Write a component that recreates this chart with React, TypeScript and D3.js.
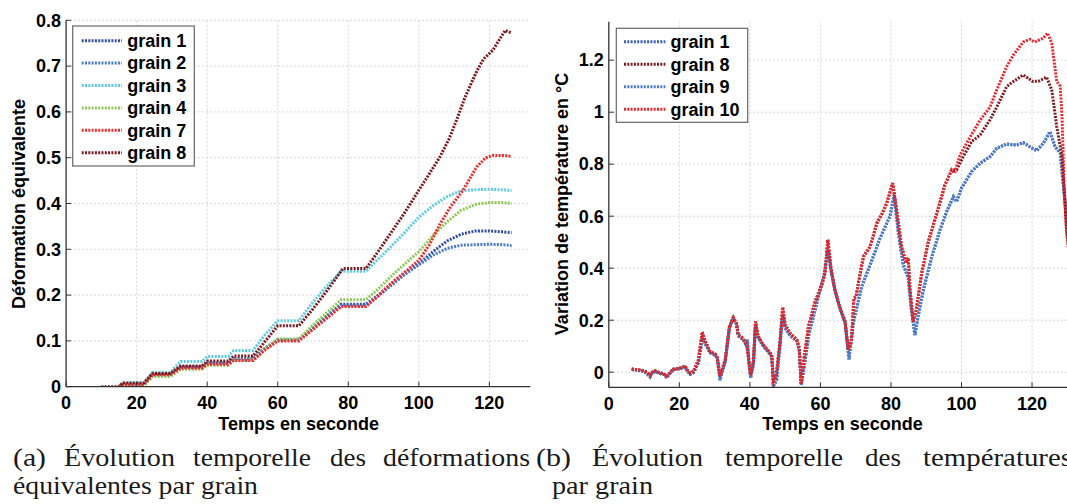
import * as d3 from "d3";

// --- left panel: Déformation équivalente (t [s], valeur) ---
const strainGrain1 = [[15,0],[16,0.005],[22,0.005],[24.5,0.027],[29.5,0.027],[32.5,0.043],[38.5,0.043],[40,0.052],[46,0.052],[47.5,0.061],[53,0.061],[56,0.082],[60,0.103],[66,0.103],[70,0.13],[74,0.155],[78,0.18],[85,0.18],[88,0.197],[92,0.222],[96,0.247],[100,0.268],[104,0.295],[108,0.318],[112,0.333],[116,0.34],[120,0.34],[124,0.338],[126.3,0.336]];
const strainGrain2 = [[15,0],[16,0.004],[22,0.004],[24.5,0.026],[29.5,0.026],[32.5,0.042],[38.5,0.042],[40,0.051],[46,0.051],[47.5,0.06],[53,0.06],[56,0.081],[60,0.102],[66,0.102],[70,0.128],[74,0.152],[78,0.177],[85,0.177],[88,0.195],[92,0.22],[96,0.245],[100,0.266],[104,0.287],[108,0.302],[112,0.309],[116,0.31],[120,0.311],[124,0.31],[126.3,0.308]];
const strainGrain3 = [[15,0],[16,0.008],[22,0.008],[24.5,0.031],[29.5,0.031],[32.5,0.055],[38.5,0.055],[40,0.066],[46,0.066],[47.5,0.079],[53,0.079],[56,0.11],[60,0.144],[66,0.144],[70,0.185],[74,0.22],[78,0.252],[85,0.252],[88,0.275],[92,0.305],[96,0.337],[100,0.37],[104,0.395],[108,0.415],[112,0.428],[116,0.43],[120,0.431],[124,0.43],[126.3,0.428]];
const strainGrain4 = [[15,0],[16,0.002],[22,0.002],[24.5,0.022],[29.5,0.022],[32.5,0.038],[38.5,0.038],[40,0.047],[46,0.047],[47.5,0.058],[53,0.058],[56,0.08],[60,0.104],[66,0.104],[70,0.135],[74,0.162],[78,0.19],[85,0.19],[88,0.21],[92,0.24],[96,0.268],[100,0.295],[104,0.33],[108,0.36],[112,0.385],[116,0.398],[120,0.402],[124,0.402],[126.3,0.4]];
const strainGrain7 = [[15,0],[16,0.005],[22,0.005],[24.5,0.026],[29.5,0.026],[32.5,0.041],[38.5,0.041],[40,0.049],[46,0.049],[47.5,0.057],[53,0.057],[56,0.078],[60,0.1],[66,0.1],[70,0.125],[74,0.15],[78,0.175],[85,0.175],[88,0.195],[92,0.225],[96,0.25],[100,0.276],[103,0.31],[106,0.355],[109,0.393],[112.6,0.43],[116.4,0.48],[119,0.5],[121,0.505],[124,0.505],[126.3,0.503]];
const strainGrain8 = [[10,0],[15,0],[16,0.008],[22,0.008],[24.5,0.029],[29.5,0.029],[32.5,0.045],[38.5,0.045],[40,0.056],[46,0.056],[47.5,0.067],[53,0.067],[56,0.095],[60,0.133],[66,0.133],[70,0.17],[74,0.21],[78.5,0.258],[85,0.258],[88,0.29],[92,0.335],[96,0.38],[100,0.429],[103,0.465],[106,0.502],[108.5,0.54],[110.7,0.582],[113,0.63],[115,0.665],[116.5,0.69],[118.3,0.715],[121,0.735],[123,0.76],[124.5,0.778],[126.3,0.772]];

// --- right panel: Variation de température (t [s], °C) ---
const tempGrain10 = [[6.5,0.012],[8,0.01],[9.8,0.006],[10.8,0],[11.7,-0.012],[12.3,0],[13.1,0.005],[14.5,-0.002],[15.5,-0.005],[16.4,-0.016],[17.3,-0.002],[18.3,0.012],[20,0.015],[21.6,0.024],[22.2,0.01],[23,-0.003],[24,0.003],[25.4,0.047],[26.5,0.155],[27.3,0.12],[28.7,0.08],[30.2,0.07],[30.8,0.055],[31.5,-0.015],[33,0.047],[34.2,0.175],[35.3,0.21],[36.2,0.188],[36.7,0.143],[38.1,0.13],[39.1,0.105],[39.6,0.06],[40.2,-0.01],[41,0.04],[41.6,0.195],[42.3,0.14],[43.8,0.105],[45.2,0.083],[46.2,0.066],[46.6,-0.036],[47.4,-0.017],[48.5,0.111],[49.3,0.25],[50,0.182],[51.4,0.15],[53.3,0.125],[54,0.093],[54.5,-0.043],[55.3,0.047],[56.6,0.175],[58.5,0.272],[60.4,0.336],[61.3,0.38],[62.1,0.51],[63,0.4],[64.1,0.317],[65.5,0.25],[67,0.195],[67.9,0.086],[68.8,0.12],[69.5,0.285],[70.1,0.29],[71,0.36],[72.2,0.445],[74.1,0.483],[76,0.573],[77.5,0.61],[78.8,0.65],[80.5,0.727],[81.6,0.624],[83,0.483],[84.3,0.419],[84.9,0.44],[85.4,0.317],[86.3,0.195],[87.2,0.24],[88.7,0.38],[90.6,0.502],[93,0.611],[95.3,0.72],[97.2,0.778],[98,0.765],[99.6,0.835],[101,0.87],[102.9,0.915],[105.3,0.97],[108.1,1.02],[110,1.086],[112.8,1.175],[114.7,1.22],[117.5,1.27],[119.4,1.28],[120.8,1.27],[123.2,1.285],[124.4,1.304],[125.6,1.265],[127,1.118],[128,1.1],[128.5,0.983],[129.1,0.714],[129.8,0.535],[130.5,0.45]];
const tempGrain8Tail = [[98.6,0.778],[100.5,0.829],[102.9,0.887],[105.3,0.913],[108.1,0.971],[110,1.02],[112.8,1.098],[114.7,1.118],[117.5,1.143],[120.3,1.118],[122,1.12],[124.1,1.135],[125.6,1.086],[127,0.945],[128.5,0.829],[129.3,0.663],[129.8,0.547],[130.5,0.47]];
const tempGrain8 = [...tempGrain10.filter((d) => d[0] <= 97.2), ...tempGrain8Tail];
const tempGrain1 = [[6.5,0.01],[8,0.008],[9.8,0.004],[10.8,-0.005],[11.7,-0.018],[12.3,-0.003],[13.1,0.003],[14.5,-0.005],[15.5,-0.008],[16.4,-0.02],[17.3,-0.005],[18.3,0.01],[20,0.013],[21.6,0.02],[22.2,0.005],[23,-0.008],[24,-0.002],[25.4,0.035],[26.5,0.13],[27.3,0.11],[28.7,0.075],[30.2,0.065],[30.8,0.05],[31.5,-0.03],[33,0.04],[34.2,0.17],[35.3,0.205],[36.2,0.185],[36.7,0.14],[38.1,0.125],[39.1,0.1],[39.3,0.125],[39.6,0.05],[40.2,-0.022],[41,0.03],[41.6,0.18],[42.3,0.135],[43.8,0.1],[45.2,0.078],[46.2,0.06],[46.8,-0.05],[47.6,-0.03],[48.5,0.1],[49.3,0.22],[50,0.17],[51.4,0.14],[53.3,0.12],[54,0.085],[54.6,-0.05],[55.5,0.03],[56.8,0.15],[58.5,0.24],[59.9,0.317],[61,0.37],[62.1,0.47],[63,0.39],[64.1,0.317],[65.5,0.245],[67,0.19],[68.1,0.05],[69.3,0.188],[70.5,0.26],[71.7,0.329],[74.1,0.413],[76.9,0.515],[79.7,0.599],[80.9,0.682],[82.1,0.535],[83.5,0.413],[84.9,0.362],[85.8,0.24],[86.8,0.143],[87.7,0.215],[89.2,0.317],[91.6,0.445],[93.9,0.547],[95.8,0.618],[97.7,0.675],[98.6,0.656],[100,0.708],[102.9,0.772],[105.3,0.804],[108.1,0.829],[110,0.861],[112.8,0.878],[115.6,0.873],[117.5,0.883],[119.4,0.867],[121.3,0.852],[123.2,0.88],[125.1,0.925],[126.5,0.868],[128,0.842],[128.7,0.74],[129.3,0.663],[129.8,0.585],[130.5,0.5]];
const tempGrain9 = tempGrain1;

const xTicks = [0, 20, 40, 60, 80, 100, 120];
const strainTicks = [0, 0.1, 0.2, 0.3, 0.4, 0.5, 0.6, 0.7, 0.8];
const tempTicks = [0, 0.2, 0.4, 0.6, 0.8, 1, 1.2];

const FONT = "'Liberation Sans', Arial, Helvetica, sans-serif";
const SERIF = "'Liberation Serif', 'Times New Roman', serif";
const DOT = "2 1.3";

const leftSeries = [
  { name: "grain 1", data: strainGrain1, color: "#2f4fa2" },
  { name: "grain 2", data: strainGrain2, color: "#4a7bc8" },
  { name: "grain 3", data: strainGrain3, color: "#5ccbe0" },
  { name: "grain 4", data: strainGrain4, color: "#8dc957" },
  { name: "grain 7", data: strainGrain7, color: "#ee2a2e" },
  { name: "grain 8", data: strainGrain8, color: "#7a1a1e" },
];

const rightSeries = [
  { name: "grain 1", data: tempGrain1, color: "#3a5fb2" },
  { name: "grain 8", data: tempGrain8, color: "#7a1a1e" },
  { name: "grain 9", data: tempGrain9, color: "#4b7bcb" },
  { name: "grain 10", data: tempGrain10, color: "#e8262c" },
];
// drawing order on the right: blue under red
const rightDrawOrder = [0, 2, 1, 3];

function Panel({ id, x, y, yTicks, series, order, yLabel, yLabelX, xLabelX, legend }) {
  const [x0, x1] = x.range();
  const [yb, yt] = y.range();
  const line = d3
    .line()
    .x((d) => x(d[0]))
    .y((d) => y(d[1]));
  const fmt = (v) => String(+v.toFixed(2));
  return (
    <g>
      <defs>
        <clipPath id={id}>
          <rect x={x0} y={yt} width={x1 - x0} height={yb - yt} />
        </clipPath>
      </defs>
      {/* grid */}
      {xTicks.filter((t) => t > 0).map((t) => (
        <line key={"gx" + t} x1={x(t)} x2={x(t)} y1={yb} y2={yt} stroke="#d6d6d6" strokeDasharray="2 2" />
      ))}
      {yTicks.filter((t) => t !== 0 || y(0) < yb - 2).map((t) => (
        <line key={"gy" + t} x1={x0} x2={x1} y1={y(t)} y2={y(t)} stroke="#d6d6d6" strokeDasharray="2 2" />
      ))}
      {/* lines */}
      <g clipPath={`url(#${id})`}>
        {order.map((i) => (
          <path
            key={i}
            d={line(series[i].data)}
            fill="none"
            stroke={series[i].color}
            strokeWidth={3}
            strokeDasharray={DOT}
          />
        ))}
      </g>
      {/* axes */}
      <line x1={x0} x2={x1} y1={yb} y2={yb} stroke="#333" strokeWidth={1.3} />
      <line x1={x0} x2={x0} y1={yb} y2={yt} stroke="#333" strokeWidth={1.3} />
      {xTicks.map((t) => (
        <g key={"tx" + t}>
          <line x1={x(t)} x2={x(t)} y1={yb} y2={yb - 5} stroke="#333" />
          <text x={x(t)} y={yb + 16} dy="0.35em" textAnchor="middle" fontFamily={FONT} fontWeight="bold" fontSize={18}>
            {t}
          </text>
        </g>
      ))}
      {yTicks.map((t) => (
        <g key={"ty" + t}>
          <line x1={x0} x2={x0 + 5} y1={y(t)} y2={y(t)} stroke="#333" />
          <text x={x0 - 5} y={y(t)} dy="0.35em" textAnchor="end" fontFamily={FONT} fontWeight="bold" fontSize={18}>
            {fmt(t)}
          </text>
        </g>
      ))}
      <text x={xLabelX} y={424} dy="0.35em" textAnchor="middle" fontFamily={FONT} fontWeight="bold" fontSize={18}>
        Temps en seconde
      </text>
      <text
        transform={`translate(${yLabelX},204) rotate(-90)`}
        dy="0.35em"
        textAnchor="middle"
        fontFamily={FONT}
        fontWeight="bold"
        fontSize={18}
      >
        {yLabel}
      </text>
      {/* legend */}
      <rect x={legend.x} y={legend.y} width={legend.w} height={legend.h} fill="#fff" stroke="#666" strokeWidth={1.2} />
      {series.map((s, i) => {
        const cy = legend.rowY + i * legend.step;
        return (
          <g key={"lg" + s.name}>
            <line
              x1={legend.sx0}
              x2={legend.sx1}
              y1={cy}
              y2={cy}
              stroke={s.color}
              strokeWidth={3}
              strokeDasharray={DOT}
            />
            <text x={legend.tx} y={cy} dy="0.35em" fontFamily={FONT} fontWeight="bold" fontSize={18}>
              {s.name}
            </text>
          </g>
        );
      })}
    </g>
  );
}

// caption words: [text, left x, width] (justified line, Computer Modern widths)
const captionA1 = [["(a)", 13, 33], ["Évolution", 64, 111], ["temporelle", 193, 118], ["des", 330, 36], ["déformations", 383, 147]];
const captionB1 = [["(b)", 536, 35], ["Évolution", 592, 111], ["temporelle", 725, 118], ["des", 865, 36], ["températures", 923, 149]];
const captionLine2 = [["équivalentes par grain", 13, 245], ["par grain", 552, 101]];

export default function App() {
  const xL = d3.scaleLinear().domain([0, 131.6]).range([66.1, 530.3]);
  const yL = d3.scaleLinear().domain([0, 0.8]).range([386.7, 20.3]);
  const xR = d3.scaleLinear().domain([0, 140]).range([608.8, 608.8 + 140 * 3.527]);
  const yR = d3.scaleLinear().domain([-0.058, 1.348]).range([387.3, 21.7]);

  return (
    <svg
      width={1067}
      height={504}
      style={{ position: "absolute", left: 0, top: 0, background: "#fff" }}
    >
      <rect width={1067} height={504} fill="#fff" />
      <Panel
        id="clipL"
        x={xL}
        y={yL}
        yTicks={strainTicks}
        series={leftSeries}
        order={[0, 1, 2, 3, 4, 5]}
        yLabel="Déformation équivalente"
        yLabelX={19}
        xLabelX={298.7}
        legend={{ x: 72.7, y: 26, w: 121.6, h: 140, rowY: 40.7, step: 22.4, sx0: 81.7, sx1: 122, tx: 127.3 }}
      />
      <Panel
        id="clipR"
        x={xR}
        y={yR}
        yTicks={tempTicks}
        series={rightSeries}
        order={rightDrawOrder}
        yLabel="Variation de température en °C"
        yLabelX={562}
        xLabelX={842.5}
        legend={{ x: 616.3, y: 28.3, w: 131.4, h: 94, rowY: 41.7, step: 22.5, sx0: 624, sx1: 665.4, tx: 670.4 }}
      />
      <g fontFamily={SERIF} fontSize={26} fill="#1a1a1a">
        {[...captionA1, ...captionB1].map(([w, px, len], i) => (
          <text key={"c" + i} x={px} y={466} textLength={len} lengthAdjust="spacingAndGlyphs">
            {w}
          </text>
        ))}
        {captionLine2.map(([w, px, len]) => (
          <text key={w} x={px} y={494} textLength={len} lengthAdjust="spacingAndGlyphs">
            {w}
          </text>
        ))}
      </g>
    </svg>
  );
}
